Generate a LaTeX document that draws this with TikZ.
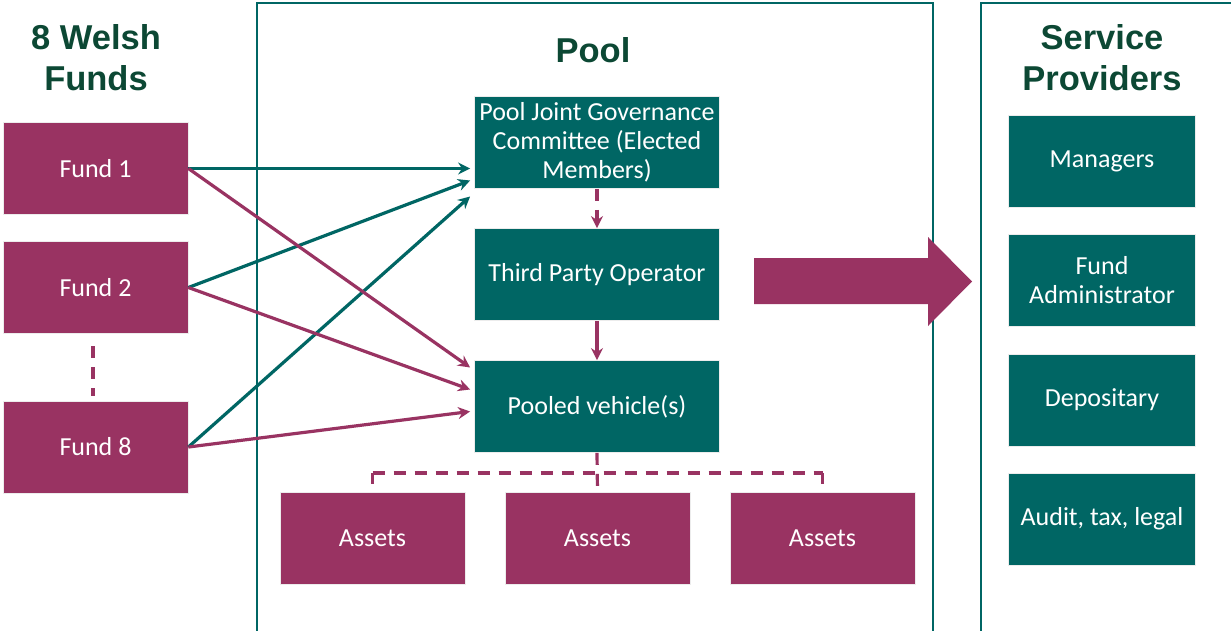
\documentclass[tikz,border=0pt]{standalone}
\usepackage{fontspec}
\setmainfont{Carlito}
\newfontfamily\headfont{Liberation Sans}
\usetikzlibrary{arrows.meta}
\definecolor{mag}{RGB}{153,51,98}
\definecolor{tealc}{RGB}{0,102,100}
\definecolor{headc}{RGB}{12,72,52}
\tikzset{
  box/.style={draw=white!85!gray,line width=0.8pt,minimum width=185pt,minimum height=92pt,inner sep=2pt,align=center,text=white,font=\fontsize{26}{29}\selectfont},
  fundbox/.style={box,fill=mag},
  poolbox/.style={box,fill=tealc,minimum width=245pt,minimum height=92pt},
  servbox/.style={box,fill=tealc,minimum width=187pt},
  assetbox/.style={box,fill=mag},
  head/.style={font=\headfont\bfseries\fontsize{34.5}{41}\selectfont,text=headc,align=center},
  tip/.style={-{Stealth[length=12pt,width=12pt,inset=4pt]}},
  tl/.style={draw=tealc,line width=3.2pt,tip},
  ml/.style={draw=mag,line width=3.2pt,tip},
  md/.style={draw=mag,line width=3.2pt,dash pattern=on 12pt off 9pt},
}
\begin{document}
\begin{tikzpicture}[x=1pt,y=-1pt]
\useasboundingbox (0,0) rectangle (1231,631);
\fill[white] (0,0) rectangle (1231,631);
% frames
\draw[tealc,line width=1.4pt] (257,640) -- (257,3) -- (933,3) -- (933,640);
\draw[tealc,line width=1.4pt] (981,640) -- (981,3) -- (1240,3);
% headings
\node[head] (hfunds) at (96,58) {8 Welsh\\Funds};
\node[head] (hpool) at (593,50) {Pool};
\node[head] (hserv) at (1102,58) {Service\\Providers};
% funds
\node[fundbox] (f1) at (95.5,168.5) {Fund 1};
\node[fundbox] (f2) at (95.5,287.5) {Fund 2};
\node[fundbox] (f8) at (95.5,447) {Fund 8};
\coordinate (d1) at (93,346);
\coordinate (d2) at (93,396);
\draw[md] (d1) -- (d2);
% pool boxes
\node[poolbox] (pj) at (597,142.5) {Pool Joint Governance\\Committee (Elected\\Members)};
\node[poolbox] (tpo) at (597,274.5) {Third Party Operator};
\node[poolbox] (pv) at (597,406.5) {Pooled vehicle(s)};
% assets
\node[assetbox] (a1) at (372.5,538.5) {Assets};
\node[assetbox] (a2) at (597.5,538.5) {Assets};
\node[assetbox] (a3) at (822.5,538.5) {Assets};
% services
\node[servbox] (s1) at (1102,161) {Managers};
\node[servbox] (s2) at (1102,280.5) {Fund\\Administrator};
\node[servbox] (s3) at (1102,400) {Depositary};
\node[servbox] (s4) at (1102,519) {Audit, tax, legal};
% fund connectors
\draw[tl] (f1.east) -- ([shift={(-4,26)}]pj.west);
\draw[tl] (f2.east) -- ([shift={(-4,38)}]pj.west);
\draw[tl] (f8.east) -- ([shift={(-4,54)}]pj.west);
\draw[ml] (f1.east) -- ([shift={(-4,-39)}]pv.west);
\draw[ml] (f2.east) -- ([shift={(-4,-17)}]pv.west);
\draw[ml] (f8.east) -- ([shift={(-4,5)}]pv.west);
% vertical links
\draw[md,tip] (pj.south) -- (tpo.north);
\draw[ml] (tpo.south) -- (pv.north);
% dashed tree
\coordinate (jn) at (597,473);
\draw[md] (pv.south) -- (a2.north);
\draw[md] (a1.north|-jn) -- (a3.north|-jn);
\draw[md] (a1.north|-jn) -- ([shift={(0,-8)}]a1.north);
\draw[md] (a3.north|-jn) -- ([shift={(0,-8)}]a3.north);
% big arrow
\fill[mag] (754,258) -- (928,258) -- (928,237) -- (972,281.5) -- (928,326) -- (928,304) -- (754,304) -- cycle;
\end{tikzpicture}
\end{document}
